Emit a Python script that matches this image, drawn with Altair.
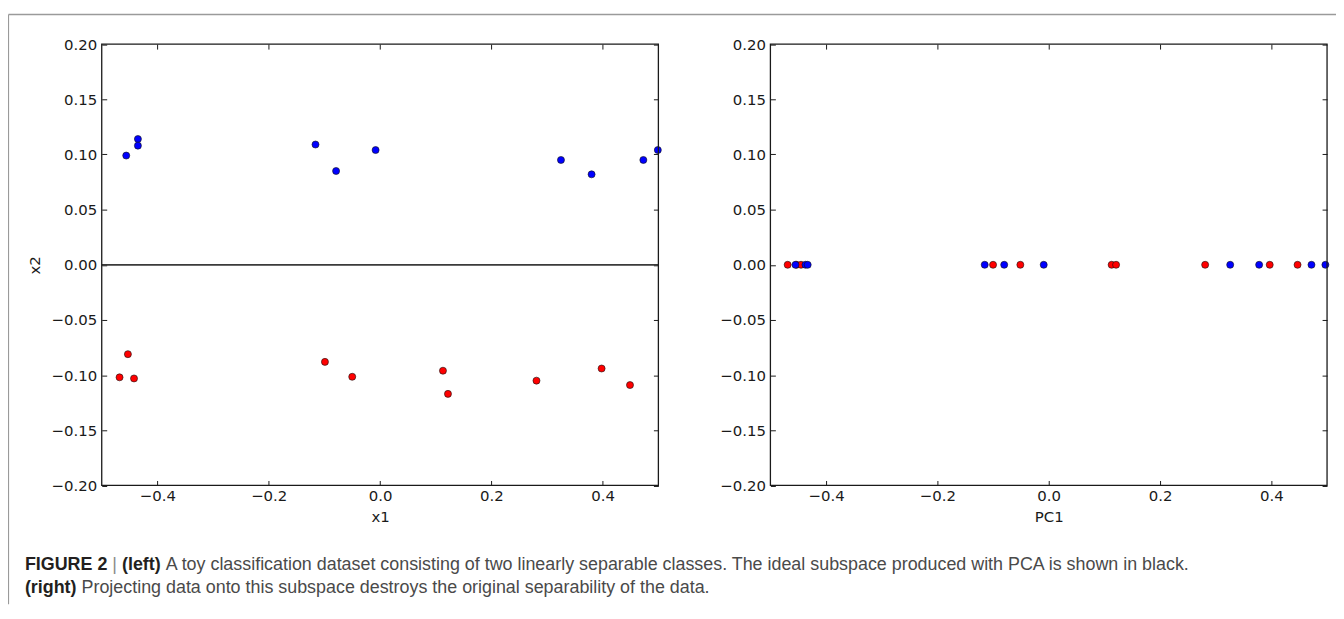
import altair as alt
import pandas as pd

# ---------------- data ----------------
# left panel: original 2-D data
blue_x1 = [-0.456, -0.435, -0.435, -0.116, -0.079, -0.008, 0.325, 0.380, 0.473, 0.499]
blue_x2 = [0.099, 0.114, 0.108, 0.109, 0.085, 0.104, 0.095, 0.082, 0.095, 0.104]
red_x1 = [-0.468, -0.453, -0.442, -0.099, -0.050, 0.113, 0.122, 0.281, 0.398, 0.449]
red_x2 = [-0.102, -0.081, -0.103, -0.088, -0.1015, -0.096, -0.117, -0.105, -0.094, -0.109]

# right panel: projection onto the first principal component
blue_pc1 = [-0.455, -0.437, -0.433, -0.115, -0.080, -0.009, 0.326, 0.378, 0.472, 0.497]
blue_pc_y = [0.0, 0.0, 0.0, 0.0, 0.0, 0.0, 0.0, 0.0, 0.0, 0.0]
red_pc1 = [-0.469, -0.453, -0.445, -0.100, -0.051, 0.113, 0.121, 0.281, 0.397, 0.447]
red_pc_y = [0.0, 0.0, 0.0, 0.0, 0.0, 0.0, 0.0, 0.0, 0.0, 0.0]

# PCA subspace (black line in left panel)
pca_x = [-0.5, 0.5]
pca_y = [0.0, 0.0]

x_domain = [-0.5, 0.5]
y_domain = [-0.2, 0.2]
x_ticks = [-0.4, -0.2, 0.0, 0.2, 0.4]
y_ticks = [-0.20, -0.15, -0.10, -0.05, 0.00, 0.05, 0.10, 0.15, 0.20]

class_names = ["class 1", "class 2"]
class_colors = ["#0000ff", "#ff0000"]

caption_fig = ["FIGURE 2"]
caption_bar = ["|"]
caption_left = ["(left)"]
caption_rest1 = ["A toy classification dataset consisting of two linearly separable classes. The ideal subspace produced with PCA is shown in black."]
caption_right = ["(right)"]
caption_rest2 = ["Projecting data onto this subspace destroys the original separability of the data."]

# ---------------- layout (pixels inside the chart) ----------------
W, H = 1336, 611
TICK = 5
LX = [94.3, 654.3]
RX = [767.0, 1327.0]
YR = [478.5, 34.5]

FONT = "DejaVu Sans"
CAP_FONT = "Liberation Sans"
INK = "#1a1a1a"

ax_common = dict(
    domain=False, grid=False, tickSize=TICK, tickColor=INK, tickWidth=1,
    labelFont=FONT, labelFontSize=15, labelColor=INK, labelFlush=False,
    labelOverlap=False, titleFont=FONT, titleFontSize=15, titleColor=INK,
    titleFontWeight="normal",
)

xsL = alt.Scale(domain=x_domain, range=LX, nice=False, zero=False)
xsR = alt.Scale(domain=x_domain, range=RX, nice=False, zero=False)
ys = alt.Scale(domain=y_domain, range=YR, nice=False, zero=False)
cscale = alt.Scale(domain=class_names, range=class_colors)

left_df = pd.DataFrame({
    "x1": blue_x1 + red_x1,
    "x2": blue_x2 + red_x2,
    "cls": [class_names[0]] * len(blue_x1) + [class_names[1]] * len(red_x1),
})
right_df = pd.DataFrame({
    "pc1": red_pc1 + blue_pc1,
    "py": red_pc_y + blue_pc_y,
    "cls": [class_names[1]] * len(red_pc1) + [class_names[0]] * len(blue_pc1),
})
frame_df = pd.DataFrame({"xa": [x_domain[0]], "xb": [x_domain[1]],
                         "ya": [y_domain[0]], "yb": [y_domain[1]]})
pca_df = pd.DataFrame({"px": pca_x, "py": pca_y})


def bottom_axis(title):
    return alt.Axis(orient="bottom", offset=-(H - YR[0] + TICK), values=x_ticks,
                    format=".1f", labelPadding=3, title=title, titlePadding=6,
                    **ax_common)


def left_axis(x0, title):
    return alt.Axis(orient="left", offset=-(x0 + TICK), values=y_ticks, format=".2f",
                    labelPadding=5, titlePadding=9, title=title, **ax_common)


def top_axis():
    return alt.Axis(orient="top", offset=-(YR[1] + TICK), values=x_ticks,
                    labels=False, title=None, **ax_common)


def right_axis(x1):
    return alt.Axis(orient="right", offset=-(W - x1 + TICK), values=y_ticks,
                    labels=False, title=None, **ax_common)


pt = dict(size=50, opacity=1, stroke="#111111", strokeWidth=0.6)

left_pts = alt.Chart(left_df).mark_circle(**pt).encode(
    x=alt.X("x1:Q", scale=xsL, axis=bottom_axis("x1")),
    y=alt.Y("x2:Q", scale=ys, axis=left_axis(LX[0], "x2")),
    color=alt.Color("cls:N", scale=cscale, legend=None),
)
pca_line = alt.Chart(pca_df).mark_line(color="#3a3a3a", strokeWidth=1.8).encode(
    x=alt.X("px:Q", scale=xsL, axis=None),
    y=alt.Y("py:Q", scale=ys, axis=None),
)
left_frame = alt.Chart(frame_df).mark_rect(fill="#ffffff", fillOpacity=0, stroke=INK, strokeWidth=1.3).encode(
    x=alt.X("xa:Q", scale=xsL, axis=top_axis()),
    x2="xb:Q",
    y=alt.Y("ya:Q", scale=ys, axis=right_axis(LX[1])),
    y2="yb:Q",
)

right_pts = alt.Chart(right_df).mark_circle(**pt).encode(
    x=alt.X("pc1:Q", scale=xsR, axis=bottom_axis("PC1")),
    y=alt.Y("py:Q", scale=ys, axis=left_axis(RX[0], None)),
    color=alt.Color("cls:N", scale=cscale, legend=None),
)
right_frame = alt.Chart(frame_df).mark_rect(fill="#ffffff", fillOpacity=0, stroke=INK, strokeWidth=1.3).encode(
    x=alt.X("xa:Q", scale=xsR, axis=top_axis()),
    x2="xb:Q",
    y=alt.Y("ya:Q", scale=ys, axis=right_axis(RX[1])),
    y2="yb:Q",
)

dummy = pd.DataFrame({"k": [0]})
top_border = alt.Chart(dummy).mark_rule(color="#9a9a9a", strokeWidth=1.5).encode(
    x=alt.value(0.5), x2=alt.value(W), y=alt.value(4.7)
)
left_border = alt.Chart(dummy).mark_rule(color="#9a9a9a", strokeWidth=1.2).encode(
    x=alt.value(0.5), y=alt.value(4.7), y2=alt.value(598)
)


def cap(texts, x, y, bold, color):
    return alt.Chart(pd.DataFrame({"t": texts})).mark_text(
        font=CAP_FONT, fontSize=18, fontWeight="bold" if bold else "normal",
        color=color, align="left", baseline="alphabetic",
    ).encode(text="t:N", x=alt.value(x), y=alt.value(y))


L1, L2 = 563.4, 586.4
caps = [
    cap(caption_fig, 17, L1, True, "#231f20"),
    cap(caption_bar, 105, L1, False, "#8a8a8a"),
    cap(caption_left, 114.7, L1, True, "#231f20"),
    cap(caption_rest1, 158.7, L1, False, "#4a4a4a"),
    cap(caption_right, 17, L2, True, "#231f20"),
    cap(caption_rest2, 74, L2, False, "#4a4a4a"),
]

chart = alt.layer(
    left_pts, pca_line, left_frame, right_pts, right_frame,
    top_border, left_border, *caps
).resolve_scale(
    x="independent", y="independent"
).resolve_axis(
    x="independent", y="independent"
).properties(
    width=W, height=H, padding=0,
    autosize=alt.AutoSizeParams(type="none"),
).configure_view(stroke=None)

chart.save("out.html", embed_options={"renderer": "svg", "actions": False})
